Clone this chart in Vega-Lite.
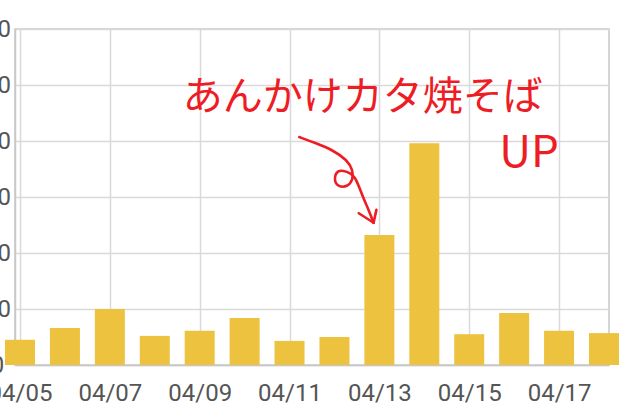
{
  "$schema": "https://vega.github.io/schema/vega-lite/v6.json",
  "width": 594,
  "height": 336,
  "autosize": "none",
  "padding": {"left": 15, "top": 29, "right": 24, "bottom": 52},
  "background": "white",
  "config": {
    "view": {"stroke": "#c8c8c8", "strokeWidth": 1.5},
    "font": "Roboto"
  },
  "datasets": {
    "sales": [
      {"date": "2023-04-05", "value": 4.5},
      {"date": "2023-04-06", "value": 6.6},
      {"date": "2023-04-07", "value": 10},
      {"date": "2023-04-08", "value": 5.2},
      {"date": "2023-04-09", "value": 6.1},
      {"date": "2023-04-10", "value": 8.4},
      {"date": "2023-04-11", "value": 4.3},
      {"date": "2023-04-12", "value": 5},
      {"date": "2023-04-13", "value": 23.2},
      {"date": "2023-04-14", "value": 39.6},
      {"date": "2023-04-15", "value": 5.5},
      {"date": "2023-04-16", "value": 9.3},
      {"date": "2023-04-17", "value": 6.1},
      {"date": "2023-04-18", "value": 5.7}
    ],
    "arrow": [
      {"order": 1, "date": "2023-04-11T05:12:00Z", "value": 40.7},
      {"order": 2, "date": "2023-04-11T14:06:00Z", "value": 39.6},
      {"order": 3, "date": "2023-04-11T23:00:00Z", "value": 38.4},
      {"order": 4, "date": "2023-04-12T06:48:00Z", "value": 36.6},
      {"order": 5, "date": "2023-04-12T09:54:00Z", "value": 34.8},
      {"order": 6, "date": "2023-04-12T09:54:00Z", "value": 33.0},
      {"order": 7, "date": "2023-04-12T06:48:00Z", "value": 31.8},
      {"order": 8, "date": "2023-04-12T02:06:00Z", "value": 31.8},
      {"order": 9, "date": "2023-04-11T23:30:00Z", "value": 33.0},
      {"order": 10, "date": "2023-04-12T01:36:00Z", "value": 35.0},
      {"order": 11, "date": "2023-04-12T06:48:00Z", "value": 34.5},
      {"order": 12, "date": "2023-04-12T11:00:00Z", "value": 33.9},
      {"order": 13, "date": "2023-04-12T15:06:00Z", "value": 30.0},
      {"order": 14, "date": "2023-04-12T18:18:00Z", "value": 27.7},
      {"order": 15, "date": "2023-04-12T20:54:00Z", "value": 25.4}
    ],
    "head": [
      {"side": "left", "date": "2023-04-12T13:00:00Z", "value": 27.1},
      {"side": "left", "date": "2023-04-12T20:54:00Z", "value": 25.4},
      {"side": "right", "date": "2023-04-12T22:24:00Z", "value": 27.7},
      {"side": "right", "date": "2023-04-12T20:54:00Z", "value": 25.4}
    ],
    "notes": [
      {"date": "2023-04-12T15:06:00Z", "value": 47.7, "text": "あんかけカタ焼そば", "size": 40},
      {"date": "2023-04-16T08:00:00Z", "value": 37.7, "text": "UP", "size": 44}
    ]
  },
  "encoding": {
    "x": {
      "field": "date",
      "type": "temporal",
      "title": null,
      "scale": {
        "type": "utc",
        "nice": false,
        "domain": [
          {"year": 2023, "month": 4, "date": 5, "utc": true},
          {"year": 2023, "month": 4, "date": 18, "utc": true}
        ]
      },
      "axis": {
        "values": [
          {"year": 2023, "month": 4, "date": 5, "utc": true},
          {"year": 2023, "month": 4, "date": 7, "utc": true},
          {"year": 2023, "month": 4, "date": 9, "utc": true},
          {"year": 2023, "month": 4, "date": 11, "utc": true},
          {"year": 2023, "month": 4, "date": 13, "utc": true},
          {"year": 2023, "month": 4, "date": 15, "utc": true},
          {"year": 2023, "month": 4, "date": 17, "utc": true}
        ],
        "labelExpr": "utcFormat(datum.value, '%m/%d')",
        "grid": true,
        "gridColor": "#d9d9d9",
        "gridWidth": 1.5,
        "ticks": false,
        "domainColor": "#c8c8c8",
        "domainWidth": 1.5,
        "labelFontSize": 24,
        "labelColor": "#555555",
        "labelPadding": 16,
        "labelFlush": false,
        "labelOverlap": false
      }
    },
    "y": {
      "field": "value",
      "type": "quantitative",
      "title": null,
      "scale": {"domain": [0, 60], "nice": false},
      "axis": {
        "values": [0, 10, 20, 30, 40, 50, 60],
        "grid": true,
        "gridColor": "#d9d9d9",
        "gridWidth": 1.5,
        "ticks": false,
        "domainColor": "#c8c8c8",
        "domainWidth": 1.5,
        "labelFontSize": 24,
        "labelColor": "#555555",
        "labelAlign": "center",
        "labelPadding": 18,
        "labelFlush": false,
        "labelOverlap": false
      }
    }
  },
  "layer": [
    {
      "data": {"name": "sales"},
      "mark": {"type": "bar", "width": 30, "color": "#ECC23F"}
    },
    {
      "data": {"name": "arrow"},
      "mark": {"type": "line", "color": "#EE1C25", "strokeWidth": 2.6, "interpolate": "basis", "strokeCap": "round"},
      "encoding": {"order": {"field": "order", "type": "quantitative"}}
    },
    {
      "data": {"name": "head"},
      "mark": {"type": "line", "color": "#EE1C25", "strokeWidth": 2.6, "strokeCap": "round"},
      "encoding": {"detail": {"field": "side"}}
    },
    {
      "data": {"name": "notes"},
      "mark": {"type": "text", "color": "#EE1C25", "font": "Noto Sans CJK JP", "align": "center", "baseline": "middle"},
      "encoding": {
        "text": {"field": "text"},
        "size": {"field": "size", "type": "quantitative", "scale": null}
      }
    }
  ]
}
